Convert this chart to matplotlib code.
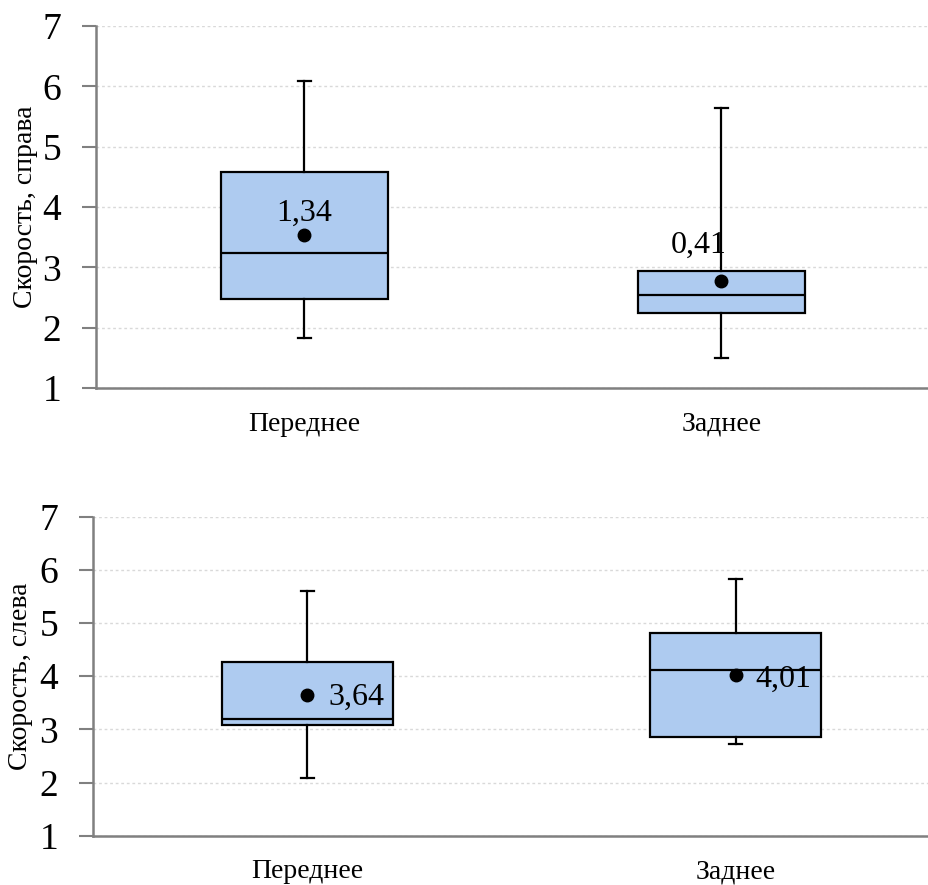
import matplotlib
matplotlib.use('Agg')
import matplotlib.pyplot as plt

plt.rcParams['font.family'] = ['Liberation Serif', 'DejaVu Serif']

# data
categories = ['Переднее', 'Заднее']

right_whislo = [1.83, 1.50]
right_q1 = [2.47, 2.24]
right_med = [3.24, 2.54]
right_q3 = [4.58, 2.94]
right_whishi = [6.09, 5.64]
right_mean = [3.53, 2.77]
right_labels = ['1,34', '0,41']

left_whislo = [2.08, 2.73]
left_q1 = [3.08, 2.85]
left_med = [3.19, 4.11]
left_q3 = [4.26, 4.81]
left_whishi = [5.60, 5.83]
left_mean = [3.65, 4.02]
left_labels = ['3,64', '4,01']

y_ticks = [1, 2, 3, 4, 5, 6, 7]


def make_stats(whislo, q1, med, q3, whishi, mean):
    stats = []
    for i in range(len(categories)):
        stats.append({'label': categories[i], 'whislo': whislo[i], 'q1': q1[i],
                      'med': med[i], 'q3': q3[i], 'whishi': whishi[i],
                      'mean': mean[i], 'fliers': []})
    return stats


def draw(ax, stats, labels, offsets, ylabel, label_x, ha):
    ax.bxp(stats, positions=range(len(categories)), widths=0.4, patch_artist=True,
           showmeans=True, showfliers=False, capwidths=0.03,
           boxprops=dict(facecolor='#aecbf0', edgecolor='black', linewidth=1.6),
           medianprops=dict(color='black', linewidth=1.6),
           whiskerprops=dict(color='black', linewidth=1.6),
           capprops=dict(color='black', linewidth=1.6),
           meanprops=dict(marker='o', markerfacecolor='black', markeredgecolor='black',
                          markersize=9))
    for i, lab in enumerate(labels):
        ax.annotate(lab, (i, stats[i]['mean']), xytext=offsets[i], textcoords='offset pixels',
                    ha=ha[i], va='center', fontsize=23)
    ax.set_xlim(-0.5, len(categories) - 0.5)
    ax.set_ylim(1, 7)
    ax.set_yticks(y_ticks)
    ax.set_xticks(range(len(categories)))
    ax.set_xticklabels(categories, fontsize=20)
    ax.tick_params(axis='x', length=0, pad=17)
    ax.tick_params(axis='y', labelsize=27, length=10, width=1.5, color='#808080', pad=15)
    ax.grid(axis='y', linestyle=(0, (2, 2)), color='#d9d9d9', linewidth=1)
    ax.set_axisbelow(True)
    for s in ['top', 'right']:
        ax.spines[s].set_visible(False)
    for s in ['left', 'bottom']:
        ax.spines[s].set_color('#808080')
        ax.spines[s].set_linewidth(1.8)
    ax.set_ylabel(ylabel, fontsize=20)
    ax.yaxis.set_label_coords(label_x, 0.5)


fig = plt.figure(figsize=(9.29, 8.85), dpi=100)
ax1 = fig.add_axes([0.1033, 0.5616, 0.8977, 0.409])
ax2 = fig.add_axes([0.1001, 0.0557, 0.9225, 0.3605])

draw(ax1, make_stats(right_whislo, right_q1, right_med, right_q3, right_whishi, right_mean),
     right_labels, [(0, 22), (-23, 36)], 'Скорость, справа', -0.07, ['center', 'center'])
draw(ax2, make_stats(left_whislo, left_q1, left_med, left_q3, left_whishi, left_mean),
     left_labels, [(21, -3), (20, -4)], 'Скорость, слева', -0.07, ['left', 'left'])

fig.savefig('out.png', dpi=100)
